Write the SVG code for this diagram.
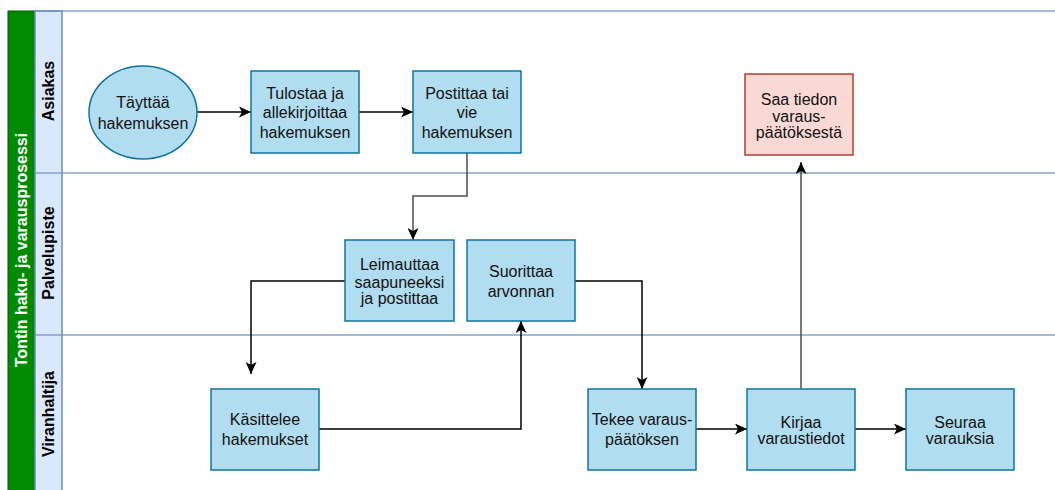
<svg xmlns="http://www.w3.org/2000/svg" width="1055" height="490" viewBox="0 0 1055 490">
<defs>
<marker id="arr" viewBox="0 0 10 10" refX="10" refY="5" markerWidth="12" markerHeight="11" markerUnits="userSpaceOnUse" orient="auto" preserveAspectRatio="none">
<path d="M0,0 L10,5 L0,10 L2.5,5 Z" fill="#000"/>
</marker>
<style>
.t{font-family:"Liberation Sans",Arial,sans-serif;font-size:16px;fill:#111;text-anchor:middle}
.lane{font-family:"Liberation Sans",Arial,sans-serif;font-size:16px;font-weight:bold;fill:#000;text-anchor:middle}
.pool{font-family:"Liberation Sans",Arial,sans-serif;font-size:16px;font-weight:bold;fill:#fff;text-anchor:middle}
.n{fill:#b1ddf0;stroke:#10739e;stroke-width:1.5}
.r{fill:#fad9d5;stroke:#ae4132;stroke-width:1.5}
.c{fill:none;stroke:#000;stroke-width:1.5}
.g{fill:none;stroke:#4d4d4d;stroke-width:1.5}
.ln{stroke:#6c8ebf;stroke-width:1.5;opacity:0.8}
</style>
</defs>
<rect width="1055" height="490" fill="#fff"/>
<g id="pool">
<rect x="8" y="11" width="27" height="485" fill="#008a00" stroke="#005700" stroke-width="1"/>
<text class="pool" transform="translate(27,250) rotate(-90)">Tontin haku- ja varausprosessi</text>
</g>
<g id="lanes">
<rect x="35" y="11" width="27" height="485" fill="#dae8fc" stroke="#6c8ebf" stroke-width="1.5"/>
<line class="ln" x1="35" y1="11" x2="1055" y2="11"/>
<line class="ln" x1="35" y1="173" x2="1055" y2="173"/>
<line class="ln" x1="35" y1="335" x2="1055" y2="335"/>
<text class="lane" transform="translate(54,91) rotate(-90)">Asiakas</text>
<text class="lane" transform="translate(54,253) rotate(-90)">Palvelupiste</text>
<text class="lane" transform="translate(54,414) rotate(-90)">Viranhaltija</text>
</g>
<g id="connectors">
<line class="c" x1="197" y1="112" x2="251" y2="112" marker-end="url(#arr)"/>
<line class="c" x1="359" y1="112" x2="413" y2="112" marker-end="url(#arr)"/>
<polyline class="g" points="467,153 467,196 413,196 413,240" marker-end="url(#arr)"/>
<polyline class="c" points="345,281 251,281 251,374" marker-end="url(#arr)"/>
<polyline class="c" points="319,429 521,429 521,321" marker-end="url(#arr)"/>
<polyline class="c" points="575,281 642,281 642,389" marker-end="url(#arr)"/>
<line class="c" x1="696" y1="429" x2="747" y2="429" marker-end="url(#arr)"/>
<line class="c" x1="855" y1="429" x2="906" y2="429" marker-end="url(#arr)"/>
<line class="g" x1="801" y1="389" x2="801" y2="162" marker-end="url(#arr)"/>
</g>
<g id="n1">
<ellipse class="n" cx="143" cy="112.5" rx="54" ry="46.5"/>
<text class="t" x="143" y="108">Täyttää</text>
<text class="t" x="143" y="129">hakemuksen</text>
</g>
<g id="n2">
<rect class="n" x="251" y="71" width="108" height="82"/>
<text class="t" x="305" y="99">Tulostaa ja</text>
<text class="t" x="305" y="118">allekirjoittaa</text>
<text class="t" x="305" y="138">hakemuksen</text>
</g>
<g id="n3">
<rect class="n" x="413" y="71" width="108" height="82"/>
<text class="t" x="467" y="99">Postittaa tai</text>
<text class="t" x="467" y="118">vie</text>
<text class="t" x="467" y="138">hakemuksen</text>
</g>
<g id="n4">
<rect class="r" x="745" y="74" width="108" height="81"/>
<text class="t" x="799" y="105">Saa tiedon</text>
<text class="t" x="799" y="122">varaus-</text>
<text class="t" x="799" y="138">päätöksestä</text>
</g>
<g id="n5">
<rect class="n" x="345" y="240" width="109" height="81"/>
<text class="t" x="399.5" y="270">Leimauttaa</text>
<text class="t" x="399.5" y="288">saapuneeksi</text>
<text class="t" x="399.5" y="304">ja postittaa</text>
</g>
<g id="n6">
<rect class="n" x="467" y="240" width="108" height="81"/>
<text class="t" x="521" y="277">Suorittaa</text>
<text class="t" x="521" y="297">arvonnan</text>
</g>
<g id="n7">
<rect class="n" x="211" y="389" width="108" height="81"/>
<text class="t" x="265" y="425">Käsittelee</text>
<text class="t" x="265" y="445">hakemukset</text>
</g>
<g id="n8">
<rect class="n" x="588" y="389" width="108" height="81"/>
<text class="t" x="642" y="425">Tekee varaus-</text>
<text class="t" x="642" y="445">päätöksen</text>
</g>
<g id="n9">
<rect class="n" x="747" y="389" width="108" height="81"/>
<text class="t" x="801" y="428">Kirjaa</text>
<text class="t" x="801" y="444">varaustiedot</text>
</g>
<g id="n10">
<rect class="n" x="906" y="389" width="108" height="81"/>
<text class="t" x="960" y="428">Seuraa</text>
<text class="t" x="960" y="444">varauksia</text>
</g>
</svg>
